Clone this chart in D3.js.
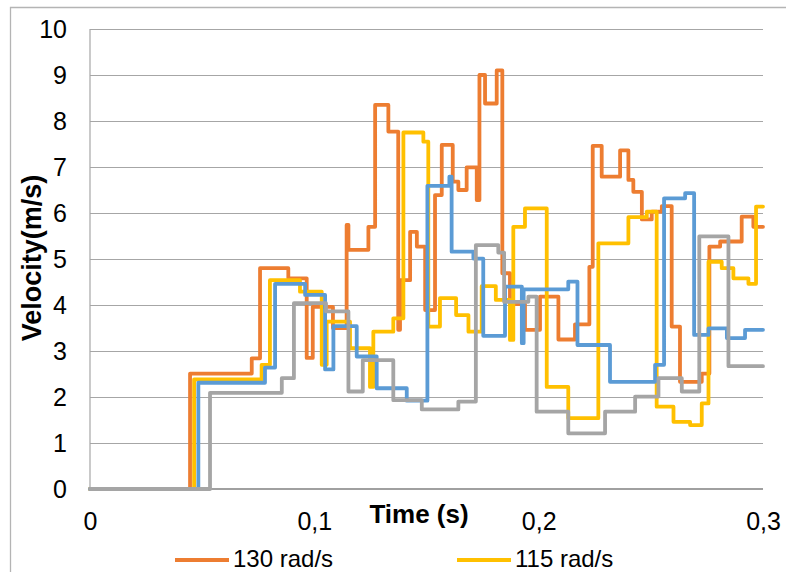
<!DOCTYPE html>
<html>
<head>
<meta charset="utf-8">
<script src="https://cdn.jsdelivr.net/npm/d3@7.9.0/dist/d3.min.js"></script>
<style>
  body { margin: 0; background: #fff; }
  svg { display: block; font-family: "Liberation Sans", Arial, sans-serif; }
</style>
</head>
<body>
<svg id="chart" width="786" height="572"></svg>
<script>
// step data: time (s) where each step starts, velocity (m/s)
const t130 = [0, 0.0446, 0.0721, 0.0758, 0.0884, 0.0966, 0.0993, 0.1083, 0.1144, 0.1152, 0.1241, 0.1271, 0.1330, 0.1374, 0.1382, 0.1427, 0.1457, 0.1494, 0.1538, 0.1568, 0.1617, 0.1642, 0.1679, 0.1724, 0.1736, 0.1761, 0.1813, 0.1838, 0.1872, 0.1939, 0.2006, 0.2088, 0.2162, 0.2226, 0.2241, 0.2281, 0.2363, 0.2400, 0.2422, 0.2460, 0.2504, 0.2549, 0.2593, 0.2630, 0.2727, 0.2761, 0.2809, 0.2905, 0.2957, 0.3];
const v130 = [0, 2.51, 2.84, 4.80, 4.58, 2.85, 3.96, 3.50, 5.74, 5.20, 5.70, 8.35, 7.77, 3.46, 4.54, 5.59, 5.27, 3.89, 6.39, 7.48, 6.68, 6.50, 6.99, 6.28, 9.00, 8.38, 9.10, 4.69, 4.02, 3.46, 4.18, 3.25, 3.58, 4.83, 7.46, 6.79, 7.36, 6.72, 6.46, 5.86, 6.03, 6.15, 3.53, 2.33, 2.51, 5.27, 5.38, 5.92, 5.70, 5.70];

const t115 = [0, 0.0464, 0.0765, 0.0802, 0.0936, 0.1033, 0.1055, 0.1159, 0.1248, 0.1263, 0.1352, 0.1397, 0.1486, 0.1508, 0.1560, 0.1632, 0.1687, 0.1746, 0.1809, 0.1872, 0.1887, 0.1939, 0.2036, 0.2132, 0.2266, 0.2400, 0.2482, 0.2526, 0.2601, 0.2675, 0.2727, 0.2757, 0.2816, 0.2868, 0.2935, 0.2969, 0.3];
const v115 = [0, 2.38, 2.70, 4.54, 4.29, 2.70, 3.64, 3.06, 2.22, 3.42, 3.71, 7.75, 7.55, 3.53, 4.15, 3.78, 3.42, 4.41, 4.11, 3.24, 5.70, 6.10, 2.22, 1.54, 5.34, 5.91, 6.03, 1.79, 1.46, 1.39, 1.86, 4.94, 4.80, 4.58, 4.46, 6.14, 6.14];

const tBlue = [0, 0.0483, 0.0780, 0.0825, 0.0959, 0.1048, 0.1085, 0.1189, 0.1278, 0.1412, 0.1504, 0.1602, 0.1612, 0.1709, 0.1753, 0.1850, 0.1925, 0.1933, 0.2132, 0.2173, 0.2318, 0.2519, 0.2559, 0.2653, 0.2693, 0.2757, 0.2839, 0.2920, 0.3];
const vBlue = [0, 2.31, 2.64, 4.46, 4.22, 2.60, 3.54, 2.88, 2.19, 1.92, 6.59, 6.79, 5.16, 5.01, 3.33, 4.40, 3.17, 4.34, 4.51, 3.13, 2.33, 2.70, 6.32, 6.43, 3.35, 3.49, 3.28, 3.46, 3.46];

const tGray = [0, 0.0535, 0.0855, 0.0909, 0.1052, 0.1152, 0.1216, 0.1352, 0.1479, 0.1642, 0.1720, 0.1820, 0.1846, 0.1954, 0.1991, 0.2132, 0.2296, 0.2430, 0.2534, 0.2638, 0.2716, 0.2846, 0.3];
const vGray = [0, 2.09, 2.41, 4.04, 3.86, 2.12, 2.80, 1.93, 1.73, 1.90, 5.30, 5.14, 4.07, 4.18, 1.68, 1.21, 1.68, 2.01, 2.41, 2.12, 5.49, 2.67, 2.67];

const xTicks = [0, 0.1, 0.2, 0.3];
const yTicks = [0, 1, 2, 3, 4, 5, 6, 7, 8, 9, 10];
const legendLabels = ["130 rad/s", "115 rad/s"];

const series = [
    { name: legendLabels[0], t: t130, v: v130, color: "#ED7D31" },
    { name: legendLabels[1], t: t115, v: v115, color: "#FFC000" },
    { name: "blue", t: tBlue, v: vBlue, color: "#5B9BD5" },
    { name: "gray", t: tGray, v: vGray, color: "#A5A5A5" }
];

const svg = d3.select("#chart");
const plotLeft = 90, plotRight = 763, plotTop = 29, plotBottom = 489;

const x = d3.scaleLinear().domain([0, 0.3]).range([plotLeft, plotRight]);
const y = d3.scaleLinear().domain([0, 10]).range([plotBottom, plotTop]);

// outer chart border (only left and top show in the crop)
svg.append("path")
    .attr("d", "M10.5,572 V7.5 H786")
    .attr("fill", "none")
    .attr("stroke", "#b4b4b4")
    .attr("stroke-width", 1.3);

// grid lines
svg.append("g")
    .attr("transform", `translate(${plotLeft},0)`)
    .call(d3.axisLeft(y).tickValues(yTicks.slice(1)).tickSize(-(plotRight - plotLeft)).tickFormat(""))
    .call(g => g.select(".domain").remove())
    .call(g => g.selectAll("line").attr("stroke", "#a6a6a6").attr("stroke-width", 1.2));

// plot area left edge
svg.append("line")
    .attr("x1", plotLeft).attr("x2", plotLeft)
    .attr("y1", plotTop).attr("y2", plotBottom)
    .attr("stroke", "#a6a6a6").attr("stroke-width", 1.2);

// y tick labels
svg.append("g")
    .attr("transform", `translate(${plotLeft},0)`)
    .call(d3.axisLeft(y).tickValues(yTicks).tickSize(0).tickPadding(23))
    .call(g => g.select(".domain").remove())
    .call(g => g.selectAll("text")
        .attr("fill", "#000")
        .style("font-size", "25px")
        .style("font-family", "'Liberation Sans', Arial, sans-serif"));

// zero line
svg.append("line")
    .attr("x1", plotLeft).attr("x2", plotRight)
    .attr("y1", y(0)).attr("y2", y(0))
    .attr("stroke", "#a0a0a0").attr("stroke-width", 1.8);

// x tick labels, comma decimals
svg.append("g")
    .attr("transform", `translate(0,${plotBottom})`)
    .call(d3.axisBottom(x).tickValues(xTicks).tickSize(0).tickPadding(23)
        .tickFormat(d => d === 0 ? "0" : d3.format(".1f")(d).replace(".", ",")))
    .call(g => g.select(".domain").remove())
    .call(g => g.selectAll("text")
        .attr("fill", "#000")
        .style("font-size", "25px")
        .style("font-family", "'Liberation Sans', Arial, sans-serif"));

// series as step lines
const line = d3.line()
    .x(d => x(d[0]))
    .y(d => y(d[1]))
    .curve(d3.curveStepAfter);

series.forEach(s => {
    const pts = s.t.map((t, i) => [t, s.v[i]]);
    svg.append("path")
        .datum(pts)
        .attr("d", line)
        .attr("fill", "none")
        .attr("stroke", s.color)
        .attr("stroke-width", 3.8)
        .attr("stroke-linejoin", "round")
        .attr("stroke-linecap", "round");
});

// axis titles
svg.append("text")
    .attr("x", 419)
    .attr("y", 523)
    .attr("text-anchor", "middle")
    .style("font-size", "26px")
    .style("font-weight", "bold")
    .text("Time (s)");

svg.append("text")
    .attr("transform", "translate(41,258) rotate(-90)")
    .attr("text-anchor", "middle")
    .style("font-size", "27px")
    .style("font-weight", "bold")
    .text("Velocity(m/s)");

// legend (second row falls outside the crop)
const legendX = [175, 457];
series.slice(0, 2).forEach((s, i) => {
    svg.append("line")
        .attr("x1", legendX[i]).attr("x2", legendX[i] + 54)
        .attr("y1", 560).attr("y2", 560)
        .attr("stroke", s.color)
        .attr("stroke-width", 4);
    svg.append("text")
        .attr("x", legendX[i] + 58)
        .attr("y", 567)
        .style("font-size", "24px")
        .text(s.name);
});
</script>
</body>
</html>
